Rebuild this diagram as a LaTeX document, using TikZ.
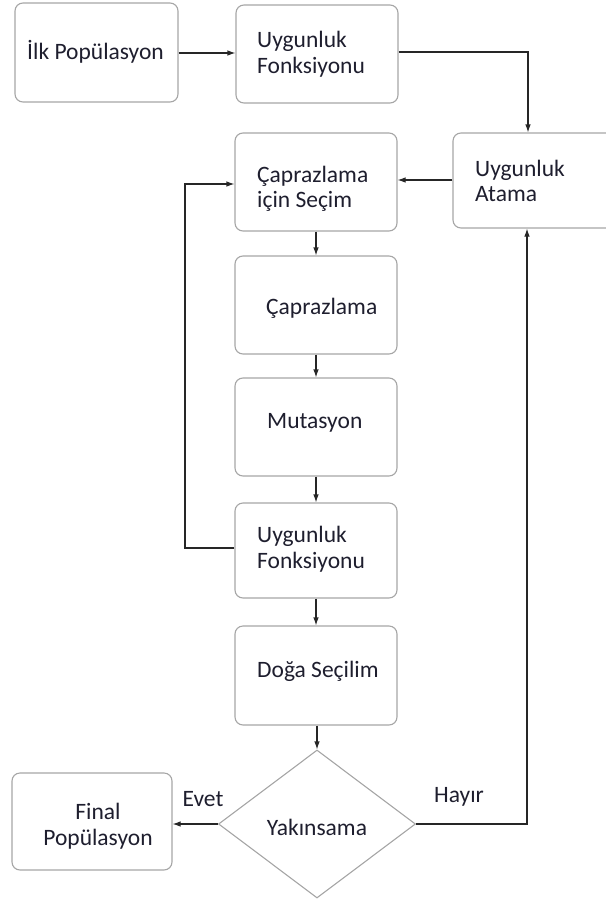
\documentclass[tikz,border=0pt]{standalone}
\usepackage{fontspec}
\setmainfont{Carlito}
\usetikzlibrary{arrows.meta,shapes.geometric}
\definecolor{boxgray}{HTML}{A6A6A6}
\definecolor{txt}{HTML}{1E1E2E}
\tikzset{
  box/.style={draw=boxgray,line width=1.1pt,rounded corners=8pt,inner sep=0pt},
  lbl/.style={text=txt,font=\fontsize{23.5}{25.5}\selectfont,inner sep=0pt,align=left},
  conn/.style={draw=black!85,line width=1.1pt,-{Latex[length=8pt,width=5.5pt]}},
}
\begin{document}
\begin{tikzpicture}[x=1pt,y=-1pt]
\useasboundingbox (0,0) rectangle (605,902);
% boxes
\node[box,minimum width=163pt,minimum height=99pt] (b1) at (96.5,52.5) {};
\node[box,minimum width=162pt,minimum height=98pt] (b2) at (317,54) {};
\node[box,minimum width=170pt,minimum height=95pt] (atama) at (538,180.5) {};
\node[box,minimum width=162pt,minimum height=98pt] (secim) at (316,182) {};
\node[box,minimum width=162pt,minimum height=98pt] (capr) at (316,305) {};
\node[box,minimum width=162pt,minimum height=98pt] (mut) at (316,427) {};
\node[box,minimum width=162pt,minimum height=95pt] (fit) at (316,550.5) {};
\node[box,minimum width=162pt,minimum height=99pt] (doga) at (316,675.5) {};
\node[draw=boxgray,line width=1.1pt,diamond,minimum width=197pt,minimum height=148pt,inner sep=0pt] (yak) at (317,824) {};
\node[box,minimum width=160pt,minimum height=97pt] (final) at (92,821.5) {};
% texts
\node[lbl,anchor=west] (t1) at (27,52) {İlk Popülasyon};
\node[lbl,anchor=west] (t2) at (257,54) {Uygunluk\\Fonksiyonu};
\node[lbl,anchor=west] (t3) at (475,181) {Uygunluk\\Atama};
\node[lbl,anchor=west] (t4) at (257,189) {Çaprazlama\\için Seçim};
\node[lbl,anchor=west] (t5) at (266,308) {Çaprazlama};
\node[lbl,anchor=west] (t6) at (267,423) {Mutasyon};
\node[lbl,anchor=west] (t7) at (257,549) {Uygunluk\\Fonksiyonu};
\node[lbl,anchor=west] (t8) at (257,671) {Doğa Seçilim};
\node[lbl] (t9) at (317,827) {Yakınsama};
\node[lbl,align=center] (t10) at (98,826) {Final\\Popülasyon};
\node[lbl] (evet) at (203,799) {Evet};
\node[lbl] (hayir) at (459,797) {Hayır};
% connectors
\draw[conn] (b1.east |- 0,53) -- (b2.west |- 0,53);
\draw[conn] (b2.east |- 0,52) -| (atama.north -| 528,0);
\draw[conn] (atama.west |- 0,180) -- (secim.east |- 0,180);
\draw[conn] (secim.south) -- (capr.north);
\draw[conn] (capr.south) -- (mut.north);
\draw[conn] (mut.south) -- (fit.north);
\draw[conn] (fit.south) -- (doga.north);
\draw[conn] (doga.south -| yak.north) -- (yak.north);
\coordinate (lp) at (185,548);
\draw[conn] (fit.west |- lp) -- (lp) |- (secim.west |- 0,184);
\draw[conn] (yak.east) -| (atama.south -| 527,0);
\draw[conn] (yak.west) -- (final.east |- yak.west);
\end{tikzpicture}
\end{document}
